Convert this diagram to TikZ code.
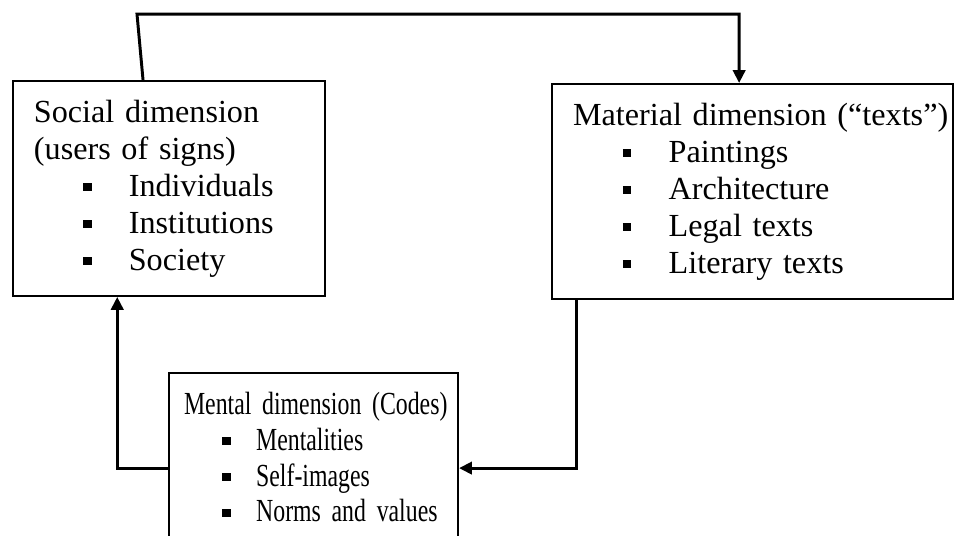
\documentclass[tikz,border=0pt]{standalone}
\usepackage{fontspec}
\setmainfont{Liberation Serif}
\newfontfamily\narrowserif[FakeStretch=0.74,WordSpace=0.74]{Liberation Serif}
\usetikzlibrary{arrows.meta,calc}
\newcommand{\sqitem}[3]{\hspace*{#1}\makebox[#2][l]{\rule[1.9pt]{3.2pt}{3.1pt}}#3}

\begin{document}
\begin{tikzpicture}[x=1cm,y=1cm,font=\fontsize{12}{13.8}\selectfont,
 box/.style={draw=black,line width=.8pt,align=left,anchor=north west,inner ysep=7pt},
 ar/.style={-{Triangle[length=4.8pt,width=4.6pt]},line width=1.1pt,draw=black}]
\useasboundingbox (0,0) rectangle (12.507,7.027);
\node[box,inner xsep=7.8pt,text width=3.54cm] (social) at (0.157,5.978)
 {Social dimension\\(users of signs)\\
  \sqitem{18.3pt}{17.1pt}{Individuals}\\
  \sqitem{18.3pt}{17.1pt}{Institutions}\\
  \sqitem{18.3pt}{17.1pt}{Society}};
\node[box,inner xsep=7.8pt,text width=4.71cm] (material) at (7.224,5.939)
 {\mbox{Material dimension (“texts”)}\\
  \sqitem{18.6pt}{17.1pt}{Paintings}\\
  \sqitem{18.6pt}{17.1pt}{Architecture}\\
  \sqitem{18.6pt}{17.1pt}{Legal texts}\\
  \sqitem{18.6pt}{17.1pt}{Literary texts}};
\node[box,inner xsep=5.6pt,text width=3.395cm,font=\narrowserif\fontsize{12}{13.4}\selectfont] (mental) at (2.202,2.150)
 {\mbox{Mental dimension (Codes)}\\
  \sqitem{14.2pt}{12.7pt}{Mentalities}\\
  \sqitem{14.2pt}{12.7pt}{Self-images}\\
  \sqitem{14.2pt}{12.7pt}{Norms and values}};
\coordinate (topbend) at (1.796,6.843);
\draw[ar] ([xshift=-0.34cm]social.north) -- (topbend) -| ([xshift=-0.177cm]material.north);
\draw[ar] ([xshift=0.33cm]material.south west) |- ([yshift=-1.26cm]mental.north east);
\draw[ar] ([yshift=-1.26cm]mental.north west) -| ([xshift=1.38cm]social.south west);
\end{tikzpicture}
\end{document}
